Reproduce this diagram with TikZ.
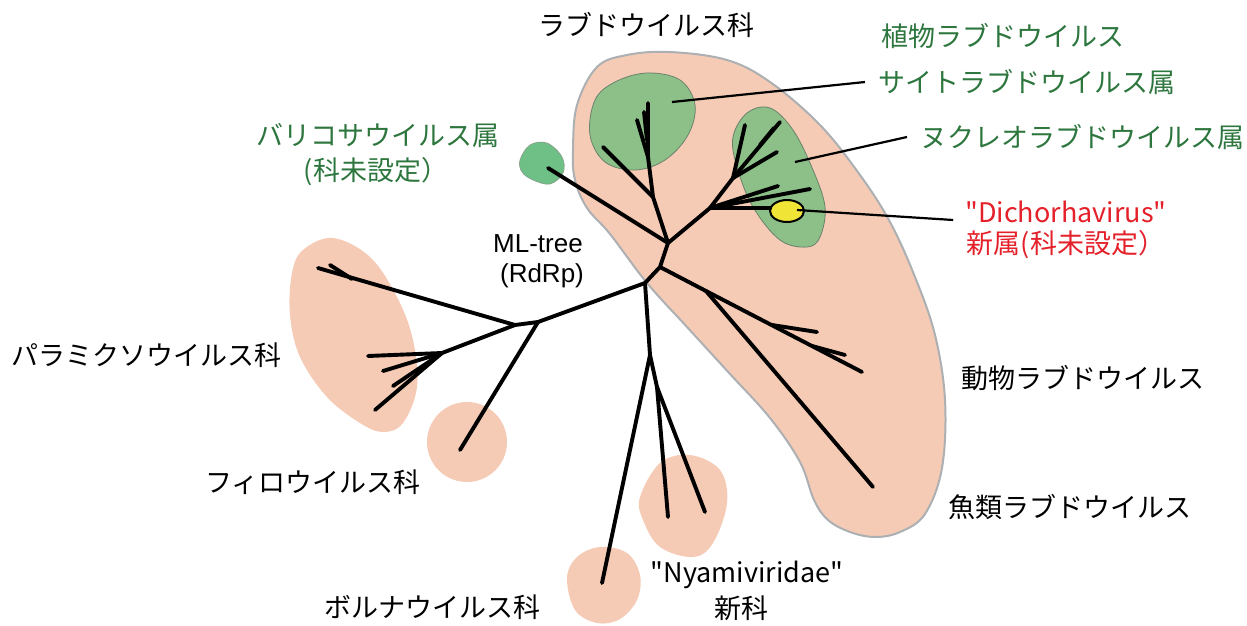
\documentclass[tikz,border=0pt]{standalone}
\usepackage{fontspec}
\newfontfamily\jpfont{Noto Sans CJK JP}
\newfontfamily\arialfont{Liberation Sans}
\definecolor{salmon}{RGB}{245,203,182}
\definecolor{outl}{RGB}{172,176,178}
\definecolor{plantg}{RGB}{141,192,137}
\definecolor{varig}{RGB}{110,192,135}
\definecolor{gedge}{RGB}{105,130,105}
\definecolor{labg}{RGB}{45,118,62}
\definecolor{labr}{RGB}{228,32,42}
\definecolor{yel}{RGB}{240,228,55}
\tikzset{
  lab/.style={inner sep=0pt, font=\jpfont\fontsize{27}{30}\selectfont},
  glab/.style={lab, text=labg},
  rlab/.style={lab, text=labr},
  br/.style={line width=3.9pt, line cap=round, line join=round},
  lead/.style={line width=2.2pt},
  blob/.style={fill=salmon, draw=none},
}
\begin{document}
\begin{tikzpicture}[x=1pt,y=-1pt]
\useasboundingbox (0,0) rectangle (1247,626);
% ---- blobs ----
\filldraw[fill=salmon, draw=outl, line width=2pt] plot[smooth cycle, tension=0.6] coordinates {
 (597,67) (627,55) (670,52) (727,60) (770,82) (820,125) (860,175) (890,222) (915,277) (935,335) (945,400) (942,468) (925,514) (900,532) (875,537) (850,532) (828,520) (814,500) (800,462) (770,418) (730,374) (687,327) (647,283) (610,234) (587,208) (575,180) (573,150) (577,105)};
\fill[blob] plot[smooth cycle, tension=0.6] coordinates {
 (292,273) (303,250) (333,238) (370,257) (397,297) (413,340) (417,387) (403,423) (383,432) (360,423) (327,397) (300,357) (290,315)};
\fill[blob] (467,442) circle (40);
\fill[blob] plot[smooth cycle, tension=0.6] coordinates {
 (567,578) (577,557) (600,547) (627,553) (640,575) (637,600) (620,619) (597,623) (575,610)};
\fill[blob] plot[smooth cycle, tension=0.6] coordinates {
 (640,497) (660,463) (690,455) (720,470) (727,503) (713,543) (693,557) (660,547) (643,520)};
% green clades
\filldraw[fill=plantg, draw=gedge, line width=0.8pt] plot[smooth cycle, tension=0.6] coordinates {
 (647,73) (680,80) (695,105) (688,135) (665,160) (635,170) (605,162) (590,135) (595,100) (615,82)};
\filldraw[fill=plantg, draw=gedge, line width=0.8pt] plot[smooth cycle, tension=0.6] coordinates {
 (770,108) (793,130) (813,170) (825,207) (820,237) (807,247) (780,240) (753,207) (737,167) (733,137) (747,113)};
\filldraw[fill=varig, draw=gedge!80, line width=0.6pt] plot[smooth cycle, tension=0.6] coordinates {
 (520,160) (530,145) (547,143) (562,157) (563,173) (550,184) (533,180) (522,172)};
% ---- tree coordinates ----
\coordinate (A) at (645,283);
\coordinate (B) at (660,267);
\coordinate (C) at (668,243);
\coordinate (varleaf) at (548,168);
\coordinate (E) at (653,197);
\coordinate (F) at (648,157);
\coordinate (ctop) at (648,103);
\coordinate (cj) at (647,140);
\coordinate (ctop2) at (644,112);
\coordinate (eleaf) at (603,147);
\coordinate (fleaf) at (637,120);
\coordinate (G) at (710,208);
\coordinate (H) at (733,178);
\coordinate (h1) at (745,125);
\coordinate (h2) at (780,122);
\coordinate (h2j) at (760,145);
\coordinate (h2b) at (774,128);
\coordinate (h3) at (777,152);
\coordinate (g1) at (778,186);
\coordinate (g2) at (810,189);
\coordinate (g3) at (780,208);
\coordinate (D) at (706,291);
\coordinate (animal) at (862,372);
\coordinate (d1) at (772,325);
\coordinate (d1t) at (817,332);
\coordinate (d2) at (812,346);
\coordinate (d2t) at (845,355);
\coordinate (fish) at (873,487);
\coordinate (I) at (650,355);
\coordinate (J) at (657,387);
\coordinate (ny1) at (668,517);
\coordinate (ny2) at (705,512);
\coordinate (borna) at (602,583);
\coordinate (K) at (538,322);
\coordinate (L) at (515,325);
\coordinate (p1) at (318,268);
\coordinate (pj) at (352,279);
\coordinate (p1b) at (330,265);
\coordinate (M) at (442,353);
\coordinate (m1) at (368,356);
\coordinate (m2) at (383,371);
\coordinate (m3) at (393,386);
\coordinate (m4) at (375,410);
\coordinate (filo) at (460,450);
% ---- tree ----
\draw[br] (A) -- (B) -- (C) -- (varleaf);
\draw[br] (C) -- (E) -- (F) -- (ctop);
\draw[br] (cj) -- (ctop2);
\draw[br] (E) -- (eleaf);
\draw[br] (F) -- (fleaf);
\draw[br] (C) -- (G) -- (H) -- (h1);
\draw[br] (H) -- (h2);
\draw[br] (h2j) -- (h2b);
\draw[br] (H) -- (h3);
\draw[br] (G) -- (g1);
\draw[br] (G) -- (g2);
\draw[br] (G) -- (g3);
\draw[br] (B) -- (D) -- (animal);
\draw[br] (d1) -- (d1t);
\draw[br] (d2) -- (d2t);
\draw[br] (D) -- (fish);
\draw[br] (A) -- (I) -- (borna);
\draw[br] (I) -- (J) -- (ny1);
\draw[br] (J) -- (ny2);
\draw[br] (A) -- (K) -- (L) -- (p1);
\draw[br] (pj) -- (p1b);
\draw[br] (L) -- (M) -- (m1);
\draw[br] (M) -- (m2);
\draw[br] (M) -- (m3);
\draw[br] (M) -- (m4);
\draw[br] (K) -- (filo);
% yellow
\filldraw[fill=yel, draw=black, line width=2pt] (787,211) ellipse [x radius=17, y radius=11];
\coordinate (yc) at (797,210);
% ---- labels ----
\node[lab] (rhabdo) at (646,25) {ラブドウイルス科};
\node[glab] (plant) at (1003,36) {植物ラブドウイルス};
\node[glab, anchor=west] (cyto) at (878,82) {サイトラブドウイルス属};
\node[glab, anchor=west] (nucleo) at (920,137) {ヌクレオラブドウイルス属};
\node[rlab] (dicho) at (1066,212) {"Dichorhavirus"};
\node[rlab] (dicho2) at (1066,245) {新属(科未設定）};
\node[glab] (vari) at (378,136) {バリコサウイルス属};
\node[glab] (vari2) at (376,172) {(科未設定）};
\node[inner sep=0pt, font=\arialfont\fontsize{26}{28}\selectfont] (ml) at (538,244) {ML-tree};
\node[inner sep=0pt, font=\arialfont\fontsize{26}{28}\selectfont] (rdrp) at (542,276) {(RdRp)};
\node[lab] (paramyxo) at (146,355) {パラミクソウイルス科};
\node[lab] (filolab) at (313,482) {フィロウイルス科};
\node[lab] (bornalab) at (432,607) {ボルナウイルス科};
\node[lab] (nyami) at (747,575) {"Nyamiviridae"};
\node[lab] (nyami2) at (741,608) {新科};
\node[lab] (animallab) at (1083,378) {動物ラブドウイルス};
\node[lab] (fishlab) at (1070,507) {魚類ラブドウイルス};
% ---- leaders ----
\coordinate (cytoin) at (672,102);
\coordinate (nucin) at (795,162);
\draw[lead] (cytoin) -- ([xshift=-13pt]cyto.west);
\draw[lead] (nucin) -- ([xshift=-13pt]nucleo.west);
\draw[lead] (yc) -- ([xshift=-12pt,yshift=-8pt]dicho.west);
\end{tikzpicture}
\end{document}
